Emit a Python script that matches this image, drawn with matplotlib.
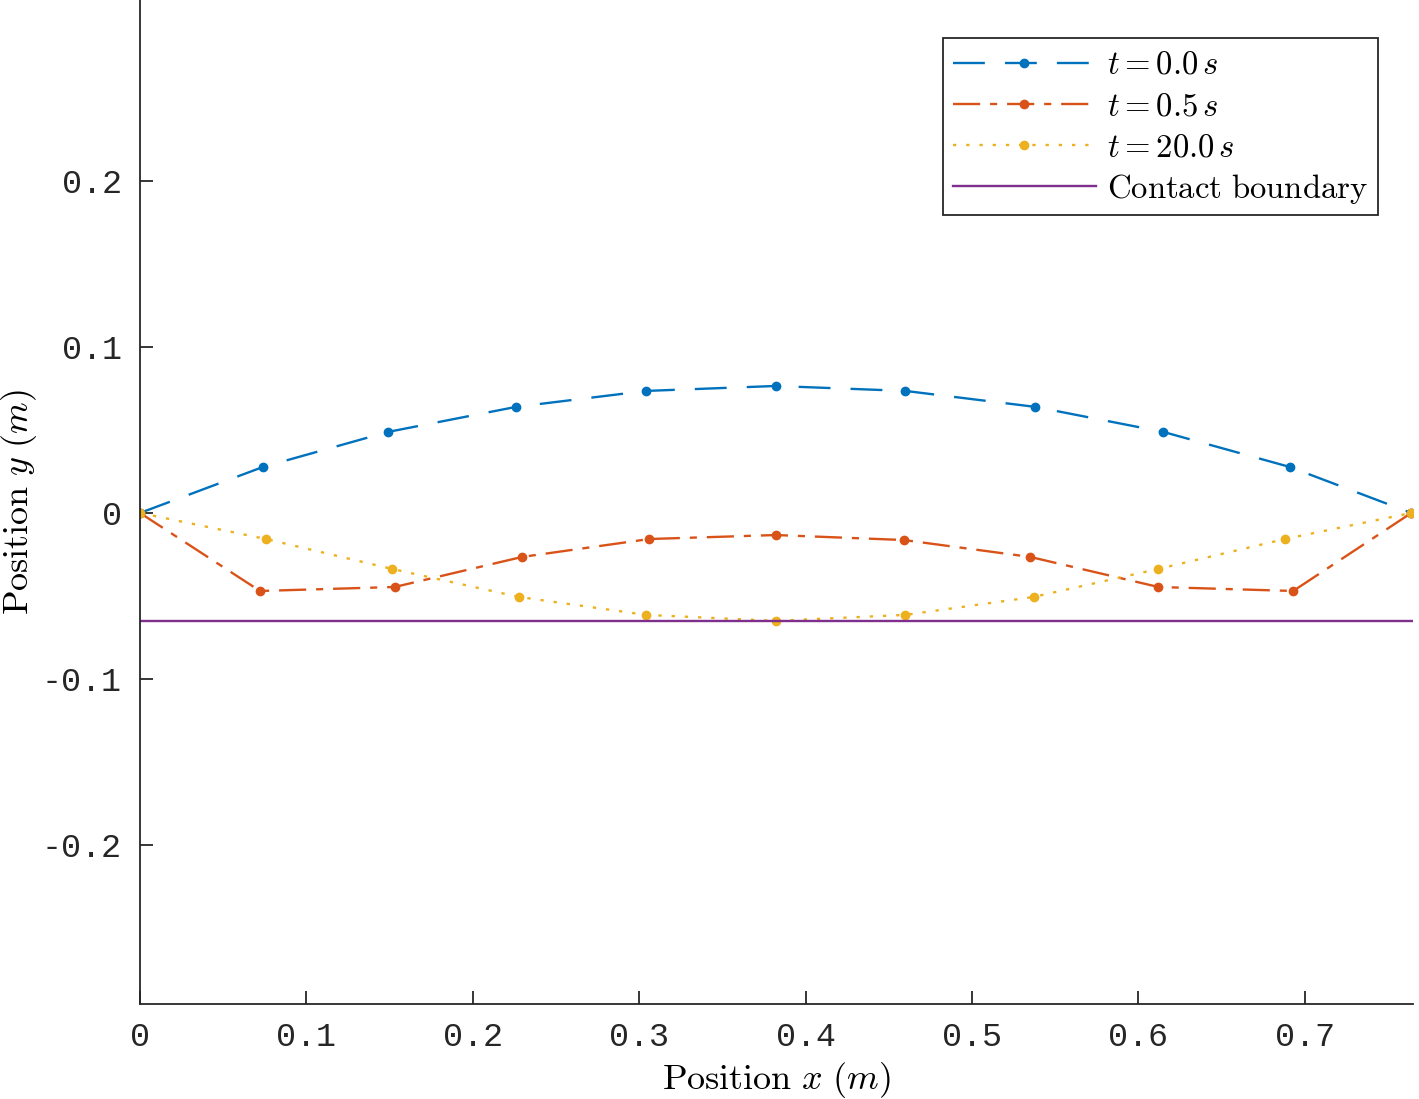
import matplotlib
matplotlib.use("Agg")
import matplotlib.pyplot as plt

plt.rcParams['mathtext.fontset'] = 'cm'

# node positions
x_t0 = [0, 0.0739, 0.149, 0.226, 0.304, 0.382, 0.460, 0.538, 0.615, 0.691, 0.764]
y_t0 = [0, 0.0277, 0.0488, 0.0639, 0.0735, 0.0765, 0.0735, 0.0639, 0.0488, 0.0277, 0]

x_t05 = [0, 0.0721, 0.153, 0.2296, 0.306, 0.382, 0.459, 0.535, 0.612, 0.693, 0.764]
y_t05 = [0, -0.047, -0.0446, -0.0265, -0.0157, -0.0133, -0.0163, -0.0265, -0.0446, -0.047, 0]

x_t20 = [0, 0.0757, 0.1514, 0.2278, 0.304, 0.382, 0.460, 0.537, 0.612, 0.688, 0.764]
y_t20 = [0, -0.0157, -0.0337, -0.0506, -0.0614, -0.065, -0.0614, -0.0506, -0.0337, -0.0157, 0]

contact_y = -0.065
x_ticks = [0, 0.1, 0.2, 0.3, 0.4, 0.5, 0.6, 0.7]
x_ticklabels = ["0", "0.1", "0.2", "0.3", "0.4", "0.5", "0.6", "0.7"]
y_ticks = [-0.2, -0.1, 0, 0.1, 0.2]
y_ticklabels = ["-0.2", "-0.1", "0", "0.1", "0.2"]

W, H = 1419, 1099
fig = plt.figure(figsize=(W / 100, H / 100), dpi=100)
ax = fig.add_axes([140 / W, (H - 1004) / H, (1413 - 140) / W, 1004 / H])

blue, orange, yellow, purple = '#0072BD', '#D95319', '#EDB120', '#7E2F8E'
lw = 1.7
ax.plot(x_t0, y_t0, color=blue, linestyle=(0, (13.5, 8.5)), linewidth=lw,
        marker='o', markersize=6, label=r'$t = 0.0\,s$')
ax.plot(x_t05, y_t05, color=orange, linestyle=(0, (11.5, 4.2, 3, 4.2)), linewidth=lw,
        marker='o', markersize=6, label=r'$t = 0.5\,s$')
ax.plot(x_t20, y_t20, color=yellow, linestyle=(0, (1.4, 4.2)), linewidth=lw,
        marker='o', markersize=6, label=r'$t = 20.0\,s$')
ax.axhline(contact_y, color=purple, linewidth=lw, label=r'$\mathrm{Contact\ boundary}$')

ax.set_xlim(0, 0.765)
ax.set_ylim(-0.2958, 0.309)
ax.spines['top'].set_visible(False)
ax.spines['right'].set_visible(False)
for s in ('left', 'bottom'):
    ax.spines[s].set_linewidth(1.3)
    ax.spines[s].set_color('#262626')

ax.set_xticks(x_ticks)
ax.set_xticklabels(x_ticklabels, family='Liberation Mono', fontsize=24)
ax.set_yticks(y_ticks)
ax.set_yticklabels(y_ticklabels, family='Liberation Mono', fontsize=24)
ax.tick_params(direction='in', length=9.5, width=1.3, color='#262626',
               labelcolor='#262626', pad=13)

ax.set_xlabel(r'$\mathrm{Position}\ x\ (m)$', fontsize=26, labelpad=5)
ax.set_ylabel(r'$\mathrm{Position}\ y\ (m)$', fontsize=26, labelpad=2)

leg = ax.legend(loc='upper right', bbox_to_anchor=(0.9725, 0.962), fontsize=23.6,
                handlelength=4.35, fancybox=False, framealpha=1, borderpad=0.3,
                labelspacing=0.25, handletextpad=0.35, borderaxespad=0)
leg.get_frame().set_edgecolor('#262626')
leg.get_frame().set_linewidth(1.3)

fig.savefig('out.png', dpi=100)
